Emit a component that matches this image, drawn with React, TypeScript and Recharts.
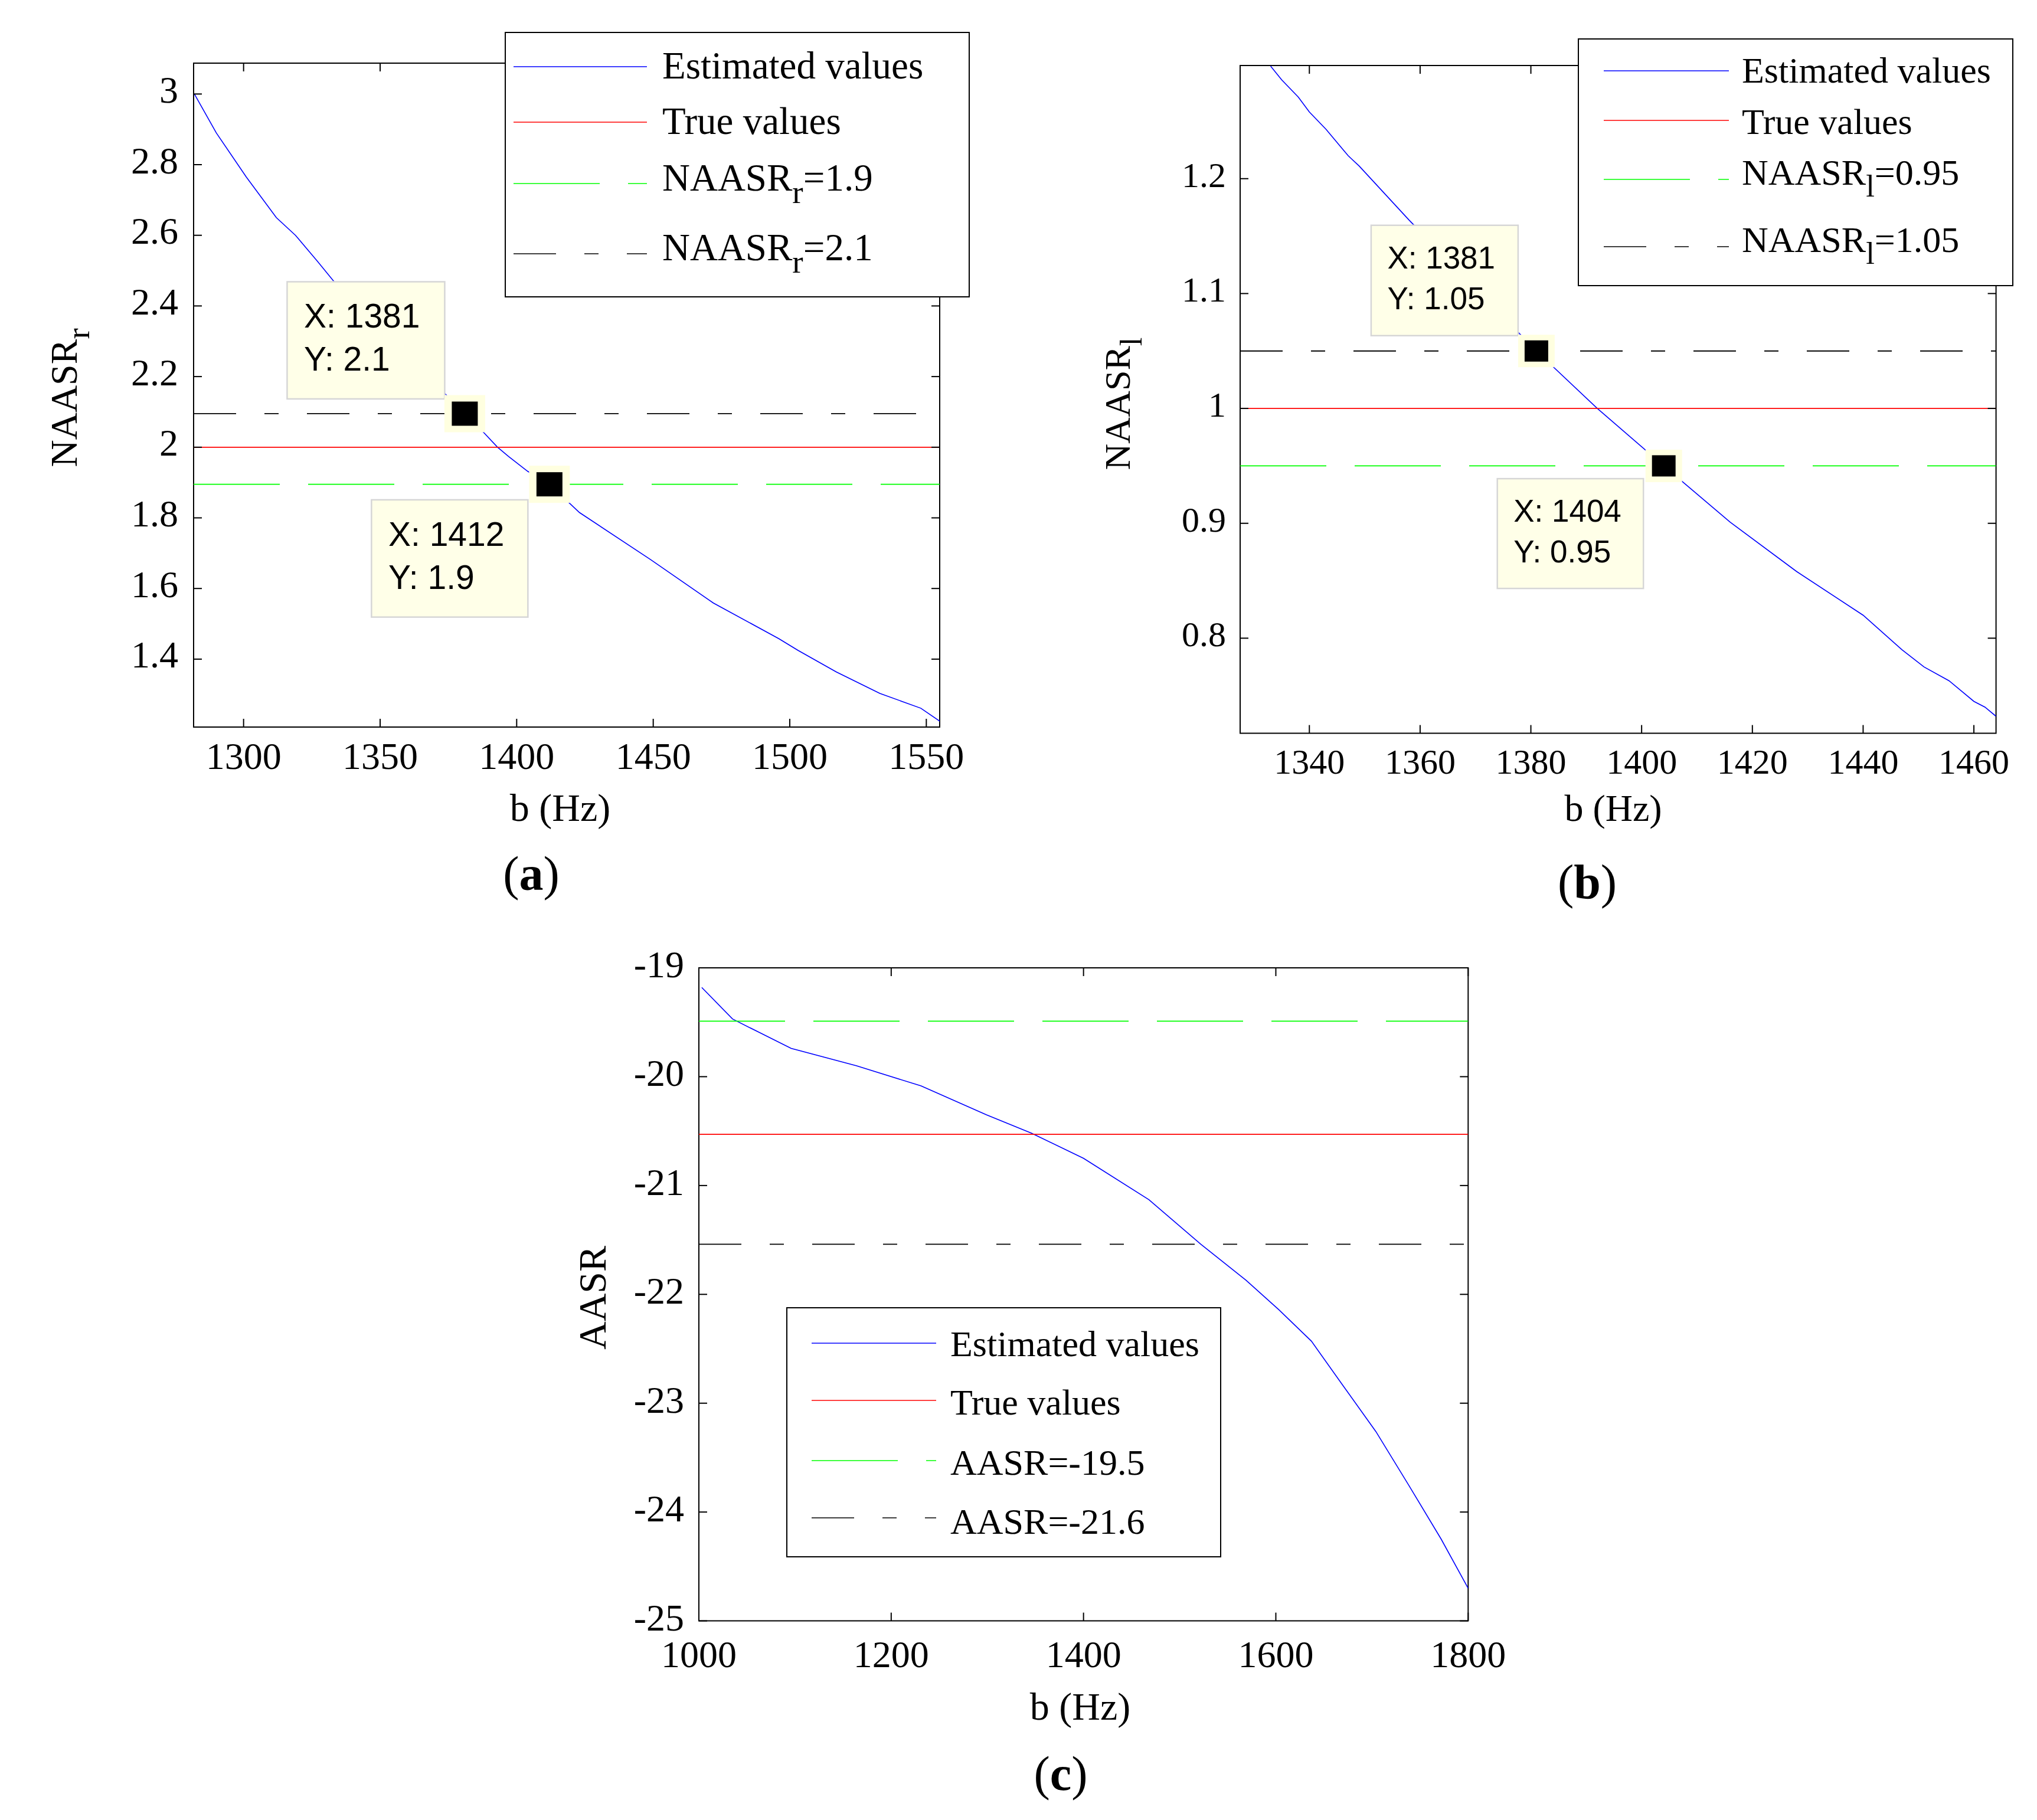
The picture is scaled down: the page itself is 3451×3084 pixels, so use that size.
import React from "react";
import { Legend, Line, LineChart, ReferenceArea, ReferenceDot, XAxis, YAxis } from "recharts";

// ---- (a) NAASR_r against b ----
const bA = [1282, 1290, 1301, 1312, 1319, 1327, 1333, 1381, 1388, 1393, 1397, 1404, 1412, 1423, 1449, 1472, 1496, 1503, 1517, 1533, 1548, 1555];
const estA = [3.0, 2.89, 2.765, 2.65, 2.6, 2.527, 2.47, 2.095, 2.041, 2.0, 1.974, 1.932, 1.895, 1.815, 1.682, 1.559, 1.458, 1.425, 1.364, 1.303, 1.261, 1.224];
const trueA = 2;
const limitsA = [1.895, 2.095];
const xDomainA = [1281.7, 1554.9];
const yDomainA = [1.2077, 3.0874];
const xTicksA = [1300, 1350, 1400, 1450, 1500, 1550];
const yTicksA = [1.4, 1.6, 1.8, 2, 2.2, 2.4, 2.6, 2.8, 3];
const namesA = ["Estimated values", "True values", "NAASR_r=1.9", "NAASR_r=2.1"];
const tipsA = [
  { b: 1381, v: 2.095, text: ["X: 1381", "Y: 2.1"] },
  { b: 1412, v: 1.895, text: ["X: 1412", "Y: 1.9"] },
];

// ---- (b) NAASR_l against b ----
const bB = [1333, 1335, 1338, 1340, 1343, 1347, 1349, 1358, 1381, 1392, 1404, 1416, 1428, 1440, 1447, 1451, 1455.5, 1458, 1460, 1462, 1464];
const estB = [1.298, 1.286, 1.271, 1.258, 1.243, 1.22, 1.211, 1.164, 1.05, 1.0, 0.95, 0.901, 0.858, 0.82, 0.79, 0.775, 0.763, 0.753, 0.745, 0.74, 0.732];
const trueB = 1;
const limitsB = [0.95, 1.05];
const xDomainB = [1327.5, 1464];
const yDomainB = [0.7172, 1.2985];
const xTicksB = [1340, 1360, 1380, 1400, 1420, 1440, 1460];
const yTicksB = [0.8, 0.9, 1, 1.1, 1.2];
const namesB = ["Estimated values", "True values", "NAASR_l=0.95", "NAASR_l=1.05"];
const tipsB = [
  { b: 1381, v: 1.05, text: ["X: 1381", "Y: 1.05"] },
  { b: 1404, v: 0.95, text: ["X: 1404", "Y: 0.95"] },
];

// ---- (c) AASR against b ----
const bC = [1003, 1035, 1062, 1096, 1164, 1231, 1299, 1346, 1400, 1468, 1522, 1569, 1603, 1637, 1670, 1704, 1738, 1772, 1800];
const estC = [-19.18, -19.47, -19.59, -19.74, -19.9, -20.085, -20.35, -20.52, -20.75, -21.13, -21.54, -21.87, -22.14, -22.43, -22.84, -23.26, -23.75, -24.25, -24.7];
const trueC = -20.53;
const limitsC = [-19.49, -21.54];
const xDomainC = [1000, 1800];
const yDomainC = [-25, -19];
const xTicksC = [1000, 1200, 1400, 1600, 1800];
const yTicksC = [-25, -24, -23, -22, -21, -20, -19];
const namesC = ["Estimated values", "True values", "AASR=-19.5", "AASR=-21.6"];

const SERIF = "'Liberation Serif', 'Times New Roman', serif";
const SANS = "'Liberation Sans', Arial, sans-serif";
const TICK_LEN = 14;

const layoutA = {
  plot: { x: 327.7, y: 106.7, w: 1264, h: 1125 },
  pad: { l: 260, t: 80, r: 80, b: 120 },
  tickFont: 64, yTickGap: 26, yTickBase: 14.5, xTickBase: 71,
  legend: { dx: 527, dy: -53, w: 788, h: 450, lineX: [15, 241], textX: 267, rows: [59, 153, 257, 376], base: [20, 20, 12, 11], font: 65 },
  tipBoxes: [{ dx: -301, dy: -223.5, w: 267, h: 198.5 }, { dx: -301.5, dy: 26.3, w: 265, h: 198.7 }],
  tipFont: 57, tipText: [28.6, 78, 151], marker: [44, 41], halo: [69, 63],
};
const layoutB = {
  plot: { x: 2100.7, y: 110.7, w: 1280.6, h: 1131.6 },
  pad: { l: 260, t: 80, r: 60, b: 120 },
  tickFont: 60, yTickGap: 24, yTickBase: 14, xTickBase: 68,
  legend: { dx: 572, dy: -45.3, w: 738, h: 420, lineX: [44, 256], textX: 278, rows: [55, 139, 239, 353], base: [20, 23, 9, 9], font: 62 },
  tipBoxes: [{ dx: -280, dy: -213, w: 249, h: 187 }, { dx: -282, dy: 21.7, w: 247.5, h: 186 }],
  tipFont: 53, tipText: [27.5, 73, 142], marker: [40, 36], halo: [62, 55],
};
const layoutC = {
  plot: { x: 1183.7, y: 1639.7, w: 1303.3, h: 1106.6 },
  pad: { l: 260, t: 80, r: 80, b: 120 },
  tickFont: 64, yTickGap: 25, yTickBase: 16, xTickBase: 78,
  legend: { dx: 148.7, dy: 575.5, w: 737, h: 424, lineX: [43, 254], textX: 278, rows: [61, 158, 260, 357], base: [22, 24, 24, 27], font: 62 },
  tipBoxes: [],
  tipFont: 55, tipText: [28, 78, 150], marker: [44, 41], halo: [69, 63],
};

// name with "_x" rendered as a subscript
function RichName({ name, font }: { name: string; font: number }) {
  const m = name.match(/^([^_]+)_(\w)(.*)$/);
  if (!m) return <>{name}</>;
  const d = font * 0.33;
  return (
    <>
      {m[1]}
      <tspan dy={d} fontSize={font * 0.85}>{m[2]}</tspan>
      <tspan dy={-d}>{m[3]}</tspan>
    </>
  );
}

// eslint-disable-next-line @typescript-eslint/no-explicit-any
function XTick({ x, y, payload, lay }: any) {
  return (
    <g>
      <line x1={x} x2={x} y1={y} y2={y - TICK_LEN} stroke="#000" strokeWidth={2} />
      <line x1={x} x2={x} y1={y - lay.plot.h} y2={y - lay.plot.h + TICK_LEN} stroke="#000" strokeWidth={2} />
      <text x={x} y={y + lay.xTickBase} textAnchor="middle" fontFamily={SERIF} fontSize={lay.tickFont} fill="#000">
        {payload.value}
      </text>
    </g>
  );
}

// eslint-disable-next-line @typescript-eslint/no-explicit-any
function YTick({ x, y, payload, lay }: any) {
  return (
    <g>
      <line x1={x} x2={x + TICK_LEN} y1={y} y2={y} stroke="#000" strokeWidth={2} />
      <line x1={x + lay.plot.w} x2={x + lay.plot.w - TICK_LEN} y1={y} y2={y} stroke="#000" strokeWidth={2} />
      <text x={x - lay.yTickGap} y={y + lay.yTickBase} textAnchor="end" fontFamily={SERIF} fontSize={lay.tickFont} fill="#000">
        {payload.value}
      </text>
    </g>
  );
}

// eslint-disable-next-line @typescript-eslint/no-explicit-any
function DataTip({ cx, cy, tip, box, lay }: any) {
  const [mw, mh] = lay.marker;
  const [hw, hh] = lay.halo;
  const [tx, b1, b2] = lay.tipText;
  const left = cx + box.dx;
  const top = cy + box.dy;
  return (
    <g>
      <rect x={left} y={top} width={box.w} height={box.h} fill="#ffffe8" stroke="#d6d6d6" strokeWidth={2.5} />
      <text x={left + tx} y={top + b1} fontFamily={SANS} fontSize={lay.tipFont} fill="#000">{tip.text[0]}</text>
      <text x={left + tx} y={top + b2} fontFamily={SANS} fontSize={lay.tipFont} fill="#000">{tip.text[1]}</text>
      <rect x={cx - hw / 2} y={cy - hh / 2} width={hw} height={hh} fill="#ffffe0" />
      <rect x={cx - mw / 2} y={cy - mh / 2} width={mw} height={mh} fill="#000" />
    </g>
  );
}

// eslint-disable-next-line @typescript-eslint/no-explicit-any
function LegendBox({ payload, lay, names }: any) {
  const lg = lay.legend;
  const items = [...(payload || [])].sort((p: any, q: any) => names.indexOf(p.value) - names.indexOf(q.value));
  return (
    <svg width={lg.w} height={lg.h} style={{ display: "block" }}>
      <rect x={1} y={1} width={lg.w - 2} height={lg.h - 2} fill="#fff" stroke="#000" strokeWidth={2} />
      {items.map((entry: any, i: number) => (
        <g key={entry.value}>
          <line
            x1={lg.lineX[0]}
            x2={lg.lineX[1]}
            y1={lg.rows[i]}
            y2={lg.rows[i]}
            stroke={entry.color}
            strokeWidth={1.7}
            strokeDasharray={entry.payload?.strokeDasharray}
          />
          <text x={lg.textX} y={lg.rows[i] + lg.base[i]} fontFamily={SERIF} fontSize={lg.font} fill="#000">
            <RichName name={entry.value} font={lg.font} />
          </text>
        </g>
      ))}
    </svg>
  );
}

// eslint-disable-next-line @typescript-eslint/no-explicit-any
function Panel({ lay, b, est, trueV, limits, names, tips, xDomain, yDomain, xTicks, yTicks }: any) {
  const { plot, pad } = lay;
  const width = pad.l + plot.w + pad.r;
  const height = pad.t + plot.h + pad.b;
  const estData = b.map((x: number, i: number) => ({ b: x, v: est[i] }));
  const flat = (v: number) => [{ b: xDomain[0], v }, { b: xDomain[1], v }];

  return (
    <div style={{ position: "absolute", left: plot.x - pad.l, top: plot.y - pad.t }}>
      <LineChart width={width} height={height} margin={{ top: pad.t, right: pad.r, bottom: 0, left: 0 }}>
        <XAxis
          type="number"
          dataKey="b"
          domain={xDomain}
          allowDataOverflow
          ticks={xTicks}
          interval={0}
          height={pad.b}
          axisLine={false}
          tickLine={false}
          tickSize={0}
          tickMargin={0}
          tick={(p: any) => <XTick {...p} lay={lay} />}
        />
        <YAxis
          type="number"
          domain={yDomain}
          allowDataOverflow
          ticks={yTicks}
          interval={0}
          width={pad.l}
          axisLine={false}
          tickLine={false}
          tickSize={0}
          tickMargin={0}
          tick={(p: any) => <YTick {...p} lay={lay} />}
        />
        <ReferenceArea
          x1={xDomain[0]}
          x2={xDomain[1]}
          y1={yDomain[0]}
          y2={yDomain[1]}
          fill="none"
          stroke="#000"
          strokeWidth={2}
        />
        <Line data={estData} dataKey="v" name={names[0]} stroke="#0000ff" strokeWidth={1.6} dot={false} activeDot={false} isAnimationActive={false} />
        <Line data={flat(trueV)} dataKey="v" name={names[1]} stroke="#ff0000" strokeWidth={1.7} dot={false} activeDot={false} isAnimationActive={false} />
        <Line data={flat(limits[0])} dataKey="v" name={names[2]} stroke="#00ff00" strokeWidth={1.6} strokeDasharray="146 48" dot={false} activeDot={false} isAnimationActive={false} />
        <Line data={flat(limits[1])} dataKey="v" name={names[3]} stroke="#000000" strokeWidth={1.8} strokeDasharray="72 48 24 48" dot={false} activeDot={false} isAnimationActive={false} />
        {tips.map((t: any, i: number) => (
          <ReferenceDot
            key={i}
            x={t.b}
            y={t.v}
            r={1}
            shape={(p: any) => <DataTip cx={p.cx} cy={p.cy} tip={t} box={lay.tipBoxes[i]} lay={lay} />}
          />
        ))}
        <Legend
          layout="horizontal"
          verticalAlign="middle"
          align="center"
          wrapperStyle={{
            left: pad.l + lay.legend.dx,
            top: pad.t + lay.legend.dy,
            width: lay.legend.w,
            height: lay.legend.h,
          }}
          content={(p: any) => <LegendBox {...p} lay={lay} names={names} />}
        />
      </LineChart>
    </div>
  );
}

function Titles() {
  const t = { fontFamily: SERIF, fill: "#000" };
  return (
    <svg width={3451} height={3084} style={{ position: "absolute", left: 0, top: 0, pointerEvents: "none" }}>
      {/* (a) */}
      <text transform="translate(129.6,674) rotate(-90)" textAnchor="middle" fontSize={64} {...t}>
        <RichName name="NAASR_r" font={64} />
      </text>
      <text x={949} y={1391} textAnchor="middle" fontSize={66} {...t}>b (Hz)</text>
      <text x={900} y={1508} textAnchor="middle" fontSize={82} {...t}>
        (<tspan fontWeight="bold">a</tspan>)
      </text>
      {/* (b) */}
      <text transform="translate(1913.7,684) rotate(-90)" textAnchor="middle" fontSize={62} {...t}>
        <RichName name="NAASR_l" font={62} />
      </text>
      <text x={2733} y={1391} textAnchor="middle" fontSize={64} {...t}>b (Hz)</text>
      <text x={2689} y={1522} textAnchor="middle" fontSize={82} {...t}>
        (<tspan fontWeight="bold">b</tspan>)
      </text>
      {/* (c) */}
      <text transform="translate(1026,2199) rotate(-90)" textAnchor="middle" fontSize={66} {...t}>AASR</text>
      <text x={1830} y={2914} textAnchor="middle" fontSize={66} {...t}>b (Hz)</text>
      <text x={1797} y={3033} textAnchor="middle" fontSize={82} {...t}>
        (<tspan fontWeight="bold">c</tspan>)
      </text>
    </svg>
  );
}

export default function App() {
  return (
    <div style={{ position: "relative", width: 3451, height: 3084, background: "#fff", overflow: "hidden" }}>
      <style>{"body{margin:0}"}</style>
      <Panel
        lay={layoutA}
        b={bA}
        est={estA}
        trueV={trueA}
        limits={limitsA}
        names={namesA}
        tips={tipsA}
        xDomain={xDomainA}
        yDomain={yDomainA}
        xTicks={xTicksA}
        yTicks={yTicksA}
      />
      <Panel
        lay={layoutB}
        b={bB}
        est={estB}
        trueV={trueB}
        limits={limitsB}
        names={namesB}
        tips={tipsB}
        xDomain={xDomainB}
        yDomain={yDomainB}
        xTicks={xTicksB}
        yTicks={yTicksB}
      />
      <Panel
        lay={layoutC}
        b={bC}
        est={estC}
        trueV={trueC}
        limits={limitsC}
        names={namesC}
        tips={[]}
        xDomain={xDomainC}
        yDomain={yDomainC}
        xTicks={xTicksC}
        yTicks={yTicksC}
      />
      <Titles />
    </div>
  );
}
